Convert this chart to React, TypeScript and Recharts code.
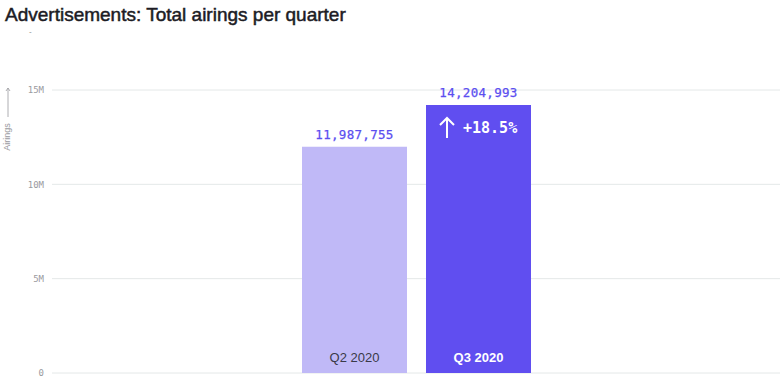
import React from 'react';
import { BarChart, Bar, XAxis, YAxis, CartesianGrid, Cell, LabelList } from 'recharts';

const quarters = ['Q2 2020', 'Q3 2020'];
const airings = [11987755, 14204993];
const barColors = ['#c0b9f7', '#604ef0'];
const yTicks = [0, 5000000, 10000000, 15000000];

const data = quarters.map((q, i) => ({ quarter: q, airings: airings[i] }));

const mono = '"DejaVu Sans Mono", "Liberation Mono", monospace';
const sans = '"Liberation Sans", Arial, sans-serif';

const fmtTick = (v: number) => (v === 0 ? '0' : `${v / 1000000}M`);

const ValueLabel = (props: any) => {
  const { x, y, width, value } = props;
  return (
    <text x={x + width / 2} y={y - 8} textAnchor="middle" fill="#5b4ef0"
      fontFamily={mono} fontSize={12.5} letterSpacing={0.3}
      stroke="#5b4ef0" strokeWidth={0.25}>
      {Number(value).toLocaleString('en-US')}
    </text>
  );
};

const InsideLabel = (props: any) => {
  const { x, y, width, height, index } = props;
  const isLast = index === quarters.length - 1;
  const prev = airings[index - 1];
  const pct = prev ? ((airings[index] / prev - 1) * 100).toFixed(1) : null;
  return (
    <g>
      <text x={x + width / 2} y={y + height - 11} textAnchor="middle"
        fill={isLast ? '#ffffff' : '#3a3a48'} fontFamily={sans} fontSize={13}
        fontWeight={isLast ? 700 : 400}>
        {quarters[index]}
      </text>
      {pct && (
        <g>
          <line x1={x + 21} y1={y + 13} x2={x + 21} y2={y + 33} stroke="#fff" strokeWidth={2} />
          <path d={`M${x + 14},${y + 20} L${x + 21},${y + 13} L${x + 28},${y + 20}`}
            fill="none" stroke="#fff" strokeWidth={2} />
          <text x={x + 37} y={y + 28} fill="#ffffff" fontFamily={mono}
            fontSize={15} fontWeight={700}>{`+${pct}%`}</text>
        </g>
      )}
    </g>
  );
};

const AxisLabel = () => (
  <g>
    <text transform="translate(10,137) rotate(-90)" textAnchor="middle"
      fill="#9a9aa0" fontFamily={sans} fontSize={9}>
      Airings
    </text>
    <line x1={8} y1={117} x2={8} y2={88} stroke="#9a9aa0" strokeWidth={0.8} />
    <path d="M6,91 L8,88 L10,91" fill="none" stroke="#9a9aa0" strokeWidth={0.8} />
  </g>
);

export default function App() {
  return (
    <div style={{ position: 'absolute', left: 0, top: 0, width: 783, height: 383, background: '#fff' }}>
      <div style={{ position: 'absolute', left: 5, top: 4, fontFamily: sans, fontSize: 19,
        fontWeight: 400, color: '#1c1c24', WebkitTextStroke: '0.5px #1c1c24' }}>
        Advertisements: Total airings per quarter
      </div>
      <div style={{ position: 'absolute', left: 29, top: 27, fontFamily: sans, fontSize: 8,
        color: '#888' }}>-</div>
      <BarChart width={783} height={383} data={data}
        margin={{ top: 90, right: 3, bottom: 10, left: 0 }}>
        <CartesianGrid horizontal vertical={false} stroke="#e4e8e8" />
        <XAxis dataKey="quarter" hide padding={{ left: 240, right: 240 }} />
        <YAxis width={52} domain={[0, 15000000]} ticks={yTicks} tickFormatter={fmtTick}
          axisLine={false} tickLine={false}
          tick={{ fill: '#9a9aa0', fontFamily: mono, fontSize: 9 }}
          label={<AxisLabel />} />
        <Bar dataKey="airings" barSize={105} isAnimationActive={false}>
          {data.map((d, i) => <Cell key={d.quarter} fill={barColors[i]} />)}
          <LabelList dataKey="airings" content={<ValueLabel />} />
          <LabelList dataKey="airings" content={<InsideLabel />} />
        </Bar>
      </BarChart>
    </div>
  );
}
